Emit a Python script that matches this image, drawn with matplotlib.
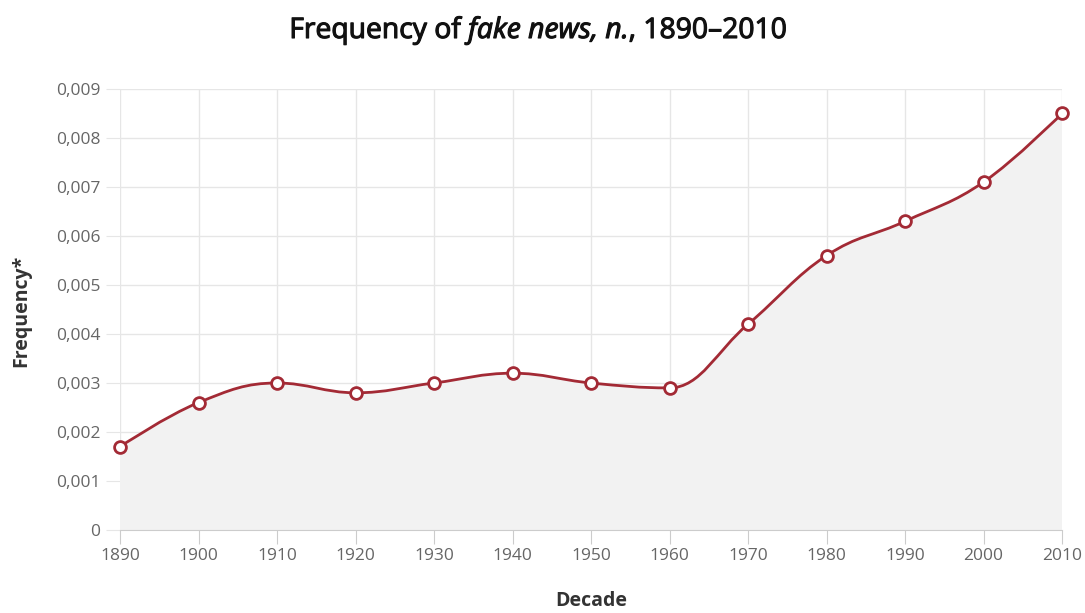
import matplotlib
matplotlib.use('Agg')
import matplotlib.pyplot as plt
import matplotlib.patheffects as pe
import numpy as np
from matplotlib.path import Path
from matplotlib.patches import PathPatch

# Frequency of "fake news, n." per decade
decades = [1890, 1900, 1910, 1920, 1930, 1940, 1950, 1960, 1970, 1980, 1990, 2000, 2010]
frequency = [0.0017, 0.0026, 0.0030, 0.0028, 0.0030, 0.0032, 0.0030, 0.0029,
             0.0042, 0.0056, 0.0063, 0.0071, 0.0085]
y_ticks = [0, 0.001, 0.002, 0.003, 0.004, 0.005, 0.006, 0.007, 0.008, 0.009]
y_tick_labels = ['0', '0,001', '0,002', '0,003', '0,004', '0,005', '0,006',
                 '0,007', '0,008', '0,009']

line_color = '#a32a35'
plt.rcParams['font.family'] = ['Open Sans', 'DejaVu Sans']


def spline_path(xs, ys, smoothing=1.5):
    # smooth curve through every point, bezier control points per point
    n = len(xs)
    left = [None] * n
    right = [None] * n
    for i in range(1, n - 1):
        d = smoothing + 1
        lx = (smoothing * xs[i] + xs[i - 1]) / d
        ly = (smoothing * ys[i] + ys[i - 1]) / d
        rx = (smoothing * xs[i] + xs[i + 1]) / d
        ry = (smoothing * ys[i] + ys[i + 1]) / d
        if rx != lx:
            corr = (ry - ly) * (rx - xs[i]) / (rx - lx) + ys[i] - ry
            ly += corr
            ry += corr
        if ly > ys[i - 1] and ly > ys[i]:
            ly = max(ys[i - 1], ys[i]); ry = 2 * ys[i] - ly
        elif ly < ys[i - 1] and ly < ys[i]:
            ly = min(ys[i - 1], ys[i]); ry = 2 * ys[i] - ly
        if ry > ys[i + 1] and ry > ys[i]:
            ry = max(ys[i + 1], ys[i]); ly = 2 * ys[i] - ry
        elif ry < ys[i + 1] and ry < ys[i]:
            ry = min(ys[i + 1], ys[i]); ly = 2 * ys[i] - ry
        left[i] = (lx, ly)
        right[i] = (rx, ry)
    verts = [(xs[0], ys[0])]
    codes = [Path.MOVETO]
    for i in range(1, n):
        c1 = right[i - 1] or (xs[i - 1], ys[i - 1])
        c2 = left[i] or (xs[i], ys[i])
        verts += [c1, c2, (xs[i], ys[i])]
        codes += [Path.CURVE4] * 3
    return verts, codes


fig = plt.figure(figsize=(10.85, 6.13), dpi=100)
ax = fig.add_axes([120 / 1085, 83 / 613, 942 / 1085, 441 / 613])

verts, codes = spline_path(decades, frequency)
# area under the curve
fill_verts = verts + [(decades[-1], 0), (decades[0], 0), verts[0]]
fill_codes = codes + [Path.LINETO, Path.LINETO, Path.CLOSEPOLY]
ax.add_patch(PathPatch(Path(fill_verts, fill_codes), facecolor='#f2f2f2',
                       edgecolor='none', zorder=1))
ax.add_patch(PathPatch(Path(verts, codes), facecolor='none', edgecolor=line_color,
                       lw=2, zorder=3, capstyle='round'))
ax.plot(decades, frequency, linestyle='none', marker='o', markersize=8.5,
        markerfacecolor='white', markeredgecolor=line_color, markeredgewidth=2,
        zorder=4, clip_on=False)

ax.set_xlim(decades[0], decades[-1])
ax.set_ylim(0, 0.009)
ax.set_xticks(decades)
ax.set_xticklabels([str(d) for d in decades])
ax.set_yticks(y_ticks)
ax.set_yticklabels(y_tick_labels)

ax.grid(True, color='#e6e6e6', lw=1, zorder=0)
ax.set_axisbelow(True)
for side in ['top', 'right', 'left']:
    ax.spines[side].set_visible(False)
ax.spines['bottom'].set_color('#cccccc')
ax.tick_params(axis='x', length=10, color='#cccccc', labelsize=12.5,
               labelcolor='#666666', pad=3)
ax.tick_params(axis='y', length=10, color='#e6e6e6', labelsize=12.5,
               labelcolor='#666666', pad=4)

fig.text(591 / 1085, 1 - 601 / 613, 'Decade', fontsize=14, fontweight='bold',
         color='#333333', ha='center', va='center')
fig.text(21 / 1085, 1 - 311 / 613, 'Frequency*', fontsize=14, fontweight='bold',
         color='#333333', ha='center', va='center', rotation=90)

# title with italic middle part, sized to span ~502 px
parts = [('Frequency of ', 'normal'), ('fake news, n.', 'italic'), (', 1890\u20132010', 'normal')]
renderer = fig.canvas.get_renderer()
texts = []
for s, style in parts:
    t = fig.text(0, 0, s, fontsize=17, fontweight='normal', style=style,
                 color='#111111', va='center',
                 path_effects=[pe.withStroke(linewidth=0.8, foreground='#111111')])
    texts.append(t)
total = sum(t.get_window_extent(renderer).width for t in texts)
size = 17 * 498 / total
for t in texts:
    t.set_fontsize(size)
widths = [t.get_window_extent(renderer).width for t in texts]
x = (538 - sum(widths) / 2) / 1085
for t, w in zip(texts, widths):
    t.set_position((x, 1 - 31 / 613))
    x += w / 1085

fig.savefig('out.png', dpi=100)
